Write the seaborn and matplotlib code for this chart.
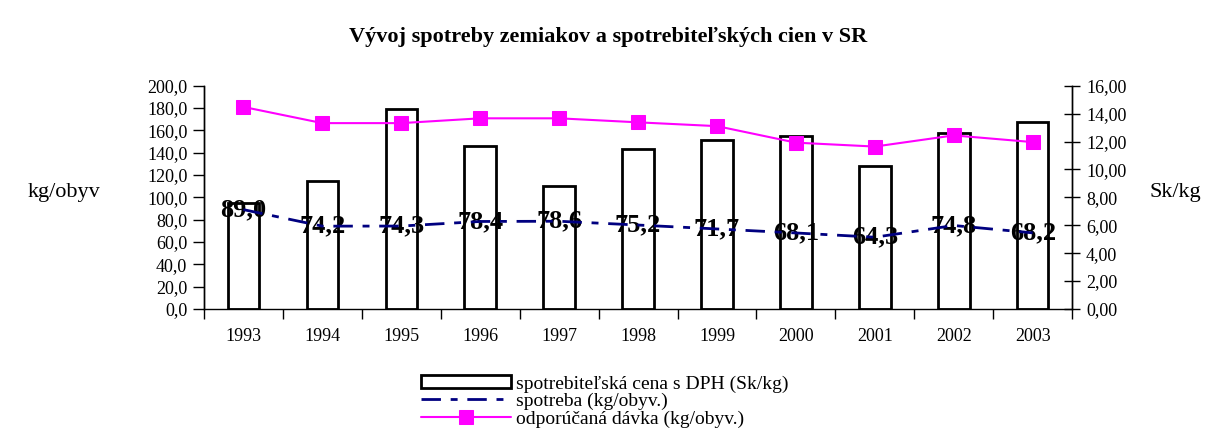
import numpy as np
import pandas as pd
import matplotlib
matplotlib.use("Agg")
import matplotlib.pyplot as plt
import seaborn as sns
from matplotlib.ticker import FuncFormatter, FixedLocator

sns.set_theme(style="white")
plt.rcParams['font.family'] = ['Liberation Serif', 'DejaVu Serif']
plt.rcParams.update({"text.color": "black", "axes.labelcolor": "black",
                     "xtick.color": "black", "ytick.color": "black"})

# ---- data ----
years = ["1993", "1994", "1995", "1996", "1997", "1998", "1999", "2000", "2001", "2002", "2003"]
cena = [7.6, 9.2, 14.35, 11.7, 8.8, 11.45, 12.1, 12.4, 10.25, 12.6, 13.4]          # Sk/kg (right axis)
spotreba = [89.0, 74.2, 74.3, 78.4, 78.6, 75.2, 71.7, 68.1, 64.3, 74.8, 68.2]      # kg/obyv (left axis)
davka = [181.0, 166.5, 166.5, 170.8, 170.8, 167.2, 163.8, 149.0, 145.5, 155.5, 149.5]  # kg/obyv (left axis)

lab_cena = "spotrebiteľská cena s DPH (Sk/kg)"
lab_spot = "spotreba (kg/obyv.)"
lab_davka = "odporúčaná dávka (kg/obyv.)"
title = "Vývoj spotreby zemiakov a spotrebiteľských cien v SR"

df = pd.DataFrame({"rok": years, "cena": cena, "spotreba": spotreba, "davka": davka})
df["pos"] = np.arange(len(df))

fig = plt.figure(figsize=(12.17, 4.43), dpi=100)
ax = fig.add_axes([0.1676, 0.3025, 0.7134, 0.504])
ax2 = ax.twinx()

# bars on primary axis whose y-axis is drawn on the right
sns.barplot(data=df, x="rok", y="cena", ax=ax, color="white", saturation=1,
            edgecolor="black", linewidth=2, width=0.4)
ax.set_ylim(0, 16)
ax.set_yticks(np.arange(0, 16.01, 2))
ax.yaxis.set_major_formatter(FuncFormatter(lambda v, p: f"{v:.2f}".replace(".", ",")))
ax.set_xlim(-0.5, len(years) - 0.5)

sns.lineplot(data=df, x="pos", y="spotreba", ax=ax2, color="#000080", linewidth=2,
             linestyle=(0, (7, 3.5, 2.5, 3.5)))
sns.lineplot(data=df, x="pos", y="davka", ax=ax2, color="#FF00FF", linewidth=1.5,
             marker="s", markersize=10, markeredgecolor="#FF00FF")
ax2.set_ylim(0, 200)
ax2.set_yticks(np.arange(0, 200.1, 20))
ax2.yaxis.set_major_formatter(FuncFormatter(lambda v, p: f"{v:.1f}".replace(".", ",")))
ax2.set_xlim(-0.5, len(years) - 0.5)

for x, v in zip(df["pos"], df["spotreba"]):
    ax2.text(x, v, f"{v:.1f}".replace(".", ","), ha="center", va="center",
             fontsize=19, fontweight="bold", color="black", zorder=1)

# axis sides
ax.yaxis.tick_right()
ax.yaxis.set_label_position("right")
ax2.yaxis.tick_left()
ax2.yaxis.set_label_position("left")

# axes styling
for a in (ax, ax2):
    a.set_xlabel("")
    a.set_ylabel("")
    a.spines["top"].set_visible(False)
    for s in ("left", "right", "bottom"):
        a.spines[s].set_color("black")
        a.spines[s].set_linewidth(1)
ax2.spines["bottom"].set_visible(False)

ax.tick_params(axis="y", which="major", direction="inout", length=12, width=1,
               color="black", labelsize=13, pad=4, right=True, left=False,
               labelright=True, labelleft=False)
ax2.tick_params(axis="y", which="major", direction="out", length=8, width=1,
                color="black", labelsize=13, pad=4, left=True, right=False,
                labelleft=True, labelright=False)
ax.xaxis.set_minor_locator(FixedLocator(np.arange(-0.5, len(years), 1.0)))
ax.tick_params(axis="x", which="major", length=0, labelsize=13, pad=14)
ax.tick_params(axis="x", which="minor", direction="out", length=7, width=1,
               color="black", bottom=True)
ax2.tick_params(axis="x", which="both", length=0, labelbottom=False)

fig.text(0.053, 0.565, "kg/obyv", fontsize=16, ha="center", va="center")
fig.text(0.966, 0.565, "Sk/kg", fontsize=16, ha="center", va="center")
fig.suptitle(title, x=0.5, y=0.94, fontsize=16, fontweight="bold")

handles = [ax.patches[0], ax2.lines[0], ax2.lines[1]]
leg = fig.legend(handles=handles, labels=[lab_cena, lab_spot, lab_davka],
                 loc="center left", bbox_to_anchor=(0.338, 0.094), frameon=False,
                 fontsize=14, handlelength=4.6, handletextpad=0.3,
                 labelspacing=0.0, borderpad=0)

fig.savefig("out.png", dpi=100)
